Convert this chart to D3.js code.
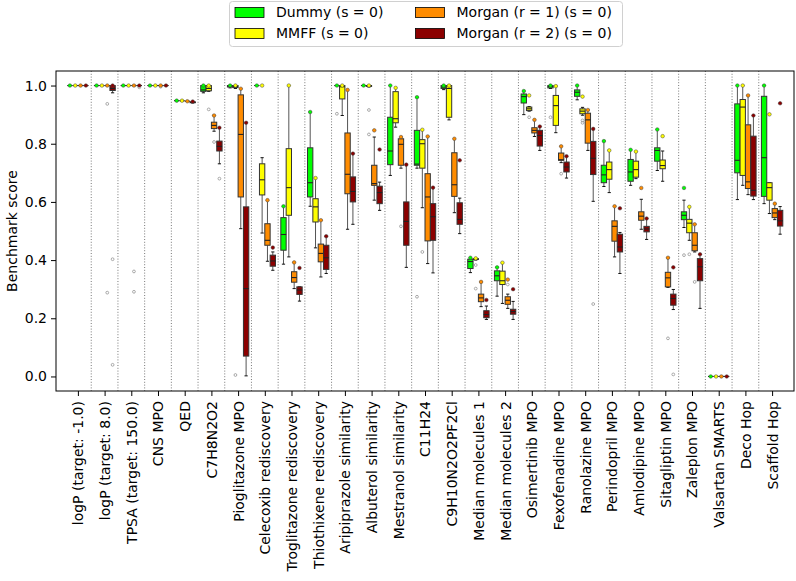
<!DOCTYPE html>
<html>
<head>
<meta charset="utf-8">
<script src="https://cdn.jsdelivr.net/npm/d3@7"></script>
<style>
  body { margin: 0; background: #fff; }
  svg { display: block; font-family: "DejaVu Sans", sans-serif; }
</style>
</head>
<body>
<svg id="chart" width="796" height="581"></svg>
<script>
const categories = ["logP (target: -1.0)", "logP (target: 8.0)", "TPSA (target: 150.0)", "CNS MPO", "QED", "C7H8N2O2", "Pioglitazone MPO", "Celecoxib rediscovery", "Troglitazone rediscovery", "Thiothixene rediscovery", "Aripiprazole similarity", "Albuterol similarity", "Mestranol similarity", "C11H24", "C9H10N2O2PF2Cl", "Median molecules 1", "Median molecules 2", "Osimertinib MPO", "Fexofenadine MPO", "Ranolazine MPO", "Perindopril MPO", "Amlodipine MPO", "Sitagliptin MPO", "Zaleplon MPO", "Valsartan SMARTS", "Deco Hop", "Scaffold Hop"];

const seriesNames = ["Dummy (s = 0)", "MMFF (s = 0)", "Morgan (r = 1) (s = 0)", "Morgan (r = 2) (s = 0)"];
const seriesColors = ["#00ff00", "#ffff00", "#ff8c00", "#8b0000"];

// each entry: [whiskerLow, q1, median, q3, whiskerHigh, best]
const dummyStats = [
  [1,1,1,1,1,1],[1,1,1,1,1,1],[1,1,1,1,1,1],[1,1,1,1,1,1],
  [0.948,0.948,0.948,0.948,0.948,0.948],
  [0.975,0.98,0.985,1.0,1.0,1.0],
  [0.992,0.995,0.998,1.0,1.0,1.0],
  [1,1,1,1,1,1],
  [0.386,0.434,0.488,0.546,0.585,0.585],
  [0.585,0.617,0.666,0.786,0.909,0.909],
  [1,1,1,1,1,1],
  [1,1,1,1,1,1],
  [0.691,0.728,0.775,0.891,1.0,1.0],
  [0.716,0.726,0.730,0.846,0.960,0.960],
  [0.986,0.99,0.995,1.0,1.0,1.0],
  [0.357,0.371,0.395,0.403,0.408,0.408],
  [0.276,0.329,0.346,0.363,0.375,0.375],
  [0.900,0.940,0.962,0.971,0.981,0.981],
  [0.99,0.992,0.997,1.0,1.0,1.0],
  [0.951,0.963,0.977,0.985,1.0,1.0],
  [0.653,0.666,0.693,0.726,0.809,0.809],
  [0.657,0.671,0.703,0.746,0.779,0.779],
  [0.708,0.740,0.777,0.786,0.849,0.849],
  [0.512,0.539,0.554,0.566,0.606,0.648],
  [0,0,0,0,0,0],
  [0.608,0.700,0.743,0.937,1.0,1.0],
  [0.594,0.619,0.752,0.963,1.0,1.0]
];
const mmffStats = [
  [1,1,1,1,1,1],[1,1,1,1,1,1],[1,1,1,1,1,1],[1,1,1,1,1,1],
  [0.948,0.948,0.948,0.948,0.948,0.948],
  [0.98,0.982,0.99,1.0,1.0,1.0],
  [0.99,0.993,0.997,1.0,1.0,1.0],
  [0.493,0.624,0.676,0.731,0.752,1.0],
  [0.411,0.554,0.649,0.783,1.0,1.0],
  [0.442,0.531,0.583,0.611,0.682,0.682],
  [0.897,0.954,0.996,1.0,1.0,1.0],
  [0.995,0.997,1,1,1,1],
  [0.857,0.872,0.886,0.979,0.992,0.992],
  [0.580,0.716,0.80,0.814,0.848,0.848],
  [0.882,0.891,0.99,1.0,1.0,1.0],
  [0.400,0.402,0.404,0.405,0.406,0.406],
  [0.251,0.316,0.329,0.362,0.391,0.391],
  [0.912,0.914,0.920,0.926,0.928,0.966],
  [0.838,0.863,0.931,0.966,0.998,0.998],
  [0.898,0.903,0.912,0.920,0.925,0.962],
  [0.632,0.678,0.711,0.737,0.777,0.777],
  [0.680,0.685,0.711,0.740,0.773,0.773],
  [0.671,0.714,0.725,0.744,0.775,0.826],
  [0.468,0.494,0.527,0.540,0.583,0.583],
  [0,0,0,0,0,0],
  [0.657,0.691,0.926,0.952,1.0,1.0],
  [0.560,0.606,0.649,0.666,0.666,0.901]
];
const morgan1Stats = [
  [1,1,1,1,1,1],[1,1,1,1,1,1],[1,1,1,1,1,1],[1,1,1,1,1,1],
  [0.946,0.946,0.946,0.946,0.946,0.946],
  [0.843,0.852,0.863,0.874,0.897,0.897],
  [0.508,0.617,0.832,0.968,0.989,0.989],
  [0.396,0.451,0.468,0.525,0.606,0.606],
  [0.302,0.324,0.340,0.360,0.392,0.392],
  [0.342,0.394,0.423,0.455,0.537,0.537],
  [0.506,0.628,0.695,0.837,0.985,0.985],
  [0.606,0.657,0.663,0.726,0.823,0.846],
  [0.716,0.726,0.798,0.817,0.823,0.823],
  [0.388,0.466,0.617,0.697,0.825,0.825],
  [0.563,0.619,0.659,0.769,0.817,0.817],
  [0.240,0.257,0.270,0.283,0.325,0.325],
  [0.234,0.248,0.262,0.274,0.283,0.333],
  [0.825,0.837,0.846,0.855,0.882,0.882],
  [0.735,0.743,0.745,0.768,0.791,0.791],
  [0.777,0.802,0.882,0.905,0.916,0.916],
  [0.411,0.465,0.516,0.535,0.585,0.585],
  [0.506,0.537,0.551,0.566,0.609,0.648],
  [0.306,0.308,0.339,0.358,0.408,0.408],
  [0.428,0.432,0.451,0.494,0.523,0.523],
  [0,0,0,0,0,0],
  [0.625,0.646,0.669,0.865,0.966,0.966],
  [0.539,0.546,0.562,0.577,0.594,0.594]
];
const morgan2Stats = [
  [1,1,1,1,1,1],
  [0.975,0.983,0.99,1.0,1.0,1.0],
  [1,1,1,1,1,1],[1,1,1,1,1,1],
  [0.940,0.941,0.942,0.944,0.945,0.945],
  [0.731,0.775,0.791,0.809,0.855,0.855],
  [0.002,0.070,0.302,0.583,0.872,0.872],
  [0.365,0.379,0.397,0.417,0.428,0.443],
  [0.259,0.282,0.297,0.308,0.308,0.373],
  [0.354,0.368,0.408,0.451,0.482,0.482],
  [0.523,0.600,0.636,0.686,0.766,0.766],
  [0.571,0.594,0.632,0.654,0.668,0.780],
  [0.375,0.451,0.533,0.600,0.728,0.728],
  [0.356,0.468,0.549,0.594,0.649,0.649],
  [0.491,0.523,0.540,0.597,0.613,0.743],
  [0.196,0.202,0.213,0.226,0.242,0.263],
  [0.196,0.214,0.223,0.231,0.258,0.300],
  [0.777,0.792,0.828,0.846,0.859,0.859],
  [0.682,0.703,0.720,0.737,0.757,0.757],
  [0.602,0.694,0.75,0.808,0.851,0.851],
  [0.354,0.428,0.445,0.489,0.495,0.578],
  [0.471,0.497,0.507,0.516,0.543,0.543],
  [0.230,0.245,0.268,0.283,0.299,0.375],
  [0.234,0.329,0.377,0.405,0.420,0.420],
  [0,0,0,0,0,0],
  [0.608,0.620,0.64,0.826,0.897,0.897],
  [0.489,0.517,0.535,0.571,0.584,0.939]
];

// outliers: [categoryIndex, value]
const dummyOutliers = [[10,0.903],[13,0.274],[18,0.891],[23,0.417]];
const mmffOutliers = [[5,0.918],[6,0.005],[11,0.916],[11,0.832],[13,0.428],[15,0.383],[15,0.302],[17,0.891],[19,0.880],[19,0.872],[23,0.420]];
const morgan1Outliers = [[1,0.937],[1,0.288],[2,0.361],[2,0.291],[3,0.996],[5,0.806],[12,0.516],[16,0.316],[18,0.697],[22,0.131],[23,0.325]];
const morgan2Outliers = [[1,0.403],[1,0.04],[2,0.994],[5,0.680],[19,0.249],[22,0.007]];

const yTicks = [0.0, 0.2, 0.4, 0.6, 0.8, 1.0];

const allStats = [dummyStats, mmffStats, morgan1Stats, morgan2Stats];
const allOutliers = [dummyOutliers, mmffOutliers, morgan1Outliers, morgan2Outliers];
const offsets = [-0.3, -0.1, 0.1, 0.3];
const boxW = 0.2;

const svg = d3.select("#chart");
const L = 56, R = 794, T = 71, B = 391;

const x = d3.scaleLinear().domain([-0.82, categories.length - 1 + 0.82]).range([L, R]);
const y = d3.scaleLinear().domain([-0.05, 1.05]).range([B, T]);
const bw = x(boxW) - x(0);

// separators
svg.append("g").selectAll("line")
  .data(d3.range(categories.length - 1))
  .join("line")
  .attr("x1", d => x(d + 0.5)).attr("x2", d => x(d + 0.5))
  .attr("y1", T).attr("y2", B)
  .attr("stroke", "#555").attr("stroke-width", 0.8)
  .attr("stroke-dasharray", "1,1.8");

const plot = svg.append("g");

allStats.forEach((stats, si) => {
  const g = plot.append("g");
  const color = seriesColors[si];
  const cx = i => x(i + offsets[si]);
  const items = stats.map((s, i) => ({i, s}));
  g.selectAll(".wl").data(items).join("line")
    .attr("x1", d => cx(d.i)).attr("x2", d => cx(d.i))
    .attr("y1", d => y(d.s[0])).attr("y2", d => y(d.s[1]))
    .attr("stroke", "#555").attr("stroke-width", 1);
  g.selectAll(".wh").data(items).join("line")
    .attr("x1", d => cx(d.i)).attr("x2", d => cx(d.i))
    .attr("y1", d => y(d.s[3])).attr("y2", d => y(d.s[4]))
    .attr("stroke", "#555").attr("stroke-width", 1);
  [0, 4].forEach(k => {
    g.selectAll(".cap" + k).data(items).join("line")
      .attr("x1", d => cx(d.i) - bw * 0.3).attr("x2", d => cx(d.i) + bw * 0.3)
      .attr("y1", d => y(d.s[k])).attr("y2", d => y(d.s[k]))
      .attr("stroke", "#111").attr("stroke-width", 1);
  });
  g.selectAll("rect").data(items).join("rect")
    .attr("x", d => cx(d.i) - bw / 2).attr("width", bw)
    .attr("y", d => y(d.s[3])).attr("height", d => Math.max(0, y(d.s[1]) - y(d.s[3])))
    .attr("fill", color).attr("stroke", "#333").attr("stroke-width", 1);
  g.selectAll(".med").data(items).join("line")
    .attr("x1", d => cx(d.i) - bw / 2).attr("x2", d => cx(d.i) + bw / 2)
    .attr("y1", d => y(d.s[2])).attr("y2", d => y(d.s[2]))
    .attr("stroke", "#222").attr("stroke-width", 1.1);
  g.selectAll(".fl").data(allOutliers[si]).join("circle")
    .attr("cx", d => cx(d[0])).attr("cy", d => y(d[1]))
    .attr("r", 1.4).attr("fill", "none").attr("stroke", "#888").attr("stroke-width", 0.7);
});

// best markers
allStats.forEach((stats, si) => {
  plot.append("g").selectAll("circle")
    .data(stats.map((s, i) => ({i, v: s[5]})))
    .join("circle")
    .attr("cx", d => x(d.i + offsets[si])).attr("cy", d => y(d.v))
    .attr("r", 1.8).attr("fill", seriesColors[si])
    .attr("stroke", "#444").attr("stroke-width", 0.5);
});

// frame
svg.append("rect").attr("x", L).attr("y", T).attr("width", R - L).attr("height", B - T)
  .attr("fill", "none").attr("stroke", "#000").attr("stroke-width", 1);

// y axis
const yAxis = svg.append("g").attr("transform", `translate(${L},0)`)
  .call(d3.axisLeft(y).tickValues(yTicks).tickFormat(d3.format(".1f")).tickSizeOuter(0).tickSize(5).tickPadding(4));
yAxis.select(".domain").remove();
yAxis.selectAll("text").attr("font-size", "14px").attr("fill", "#000").attr("font-family", "DejaVu Sans");
yAxis.selectAll("line").attr("stroke", "#000");

// x axis
const xAxis = svg.append("g").attr("transform", `translate(0,${B})`)
  .call(d3.axisBottom(x).tickValues(d3.range(categories.length)).tickFormat(i => categories[i]).tickSizeOuter(0).tickSize(5));
xAxis.select(".domain").remove();
xAxis.selectAll("line").attr("stroke", "#000");
xAxis.selectAll("text")
  .attr("font-size", "14px").attr("fill", "#000").attr("font-family", "DejaVu Sans")
  .attr("transform", "rotate(-90)")
  .attr("x", -10).attr("y", 0).attr("dy", "0.35em")
  .attr("text-anchor", "end");

// y label
svg.append("text")
  .attr("transform", `translate(17,${(T + B) / 2}) rotate(-90)`)
  .attr("text-anchor", "middle")
  .attr("font-size", "14px")
  .text("Benchmark score");

// legend
const lg = svg.append("g");
lg.append("rect").attr("x", 229.5).attr("y", 1.5).attr("width", 393).attr("height", 45)
  .attr("rx", 3).attr("fill", "#fff").attr("fill-opacity", 0.8).attr("stroke", "#d0d0d0");
const legendPos = [[235, 7.5], [235, 28.5], [415.5, 7.5], [415.5, 28.5]];
seriesNames.forEach((name, i) => {
  const [lx, ly] = legendPos[i];
  lg.append("rect").attr("x", lx).attr("y", ly).attr("width", 29).attr("height", 10)
    .attr("fill", seriesColors[i]).attr("stroke", "#000").attr("stroke-width", 0.8);
  lg.append("text").attr("x", lx + 41).attr("y", ly + 5).attr("dy", "0.35em")
    .attr("font-size", "14px").text(name);
});
</script>
</body>
</html>
